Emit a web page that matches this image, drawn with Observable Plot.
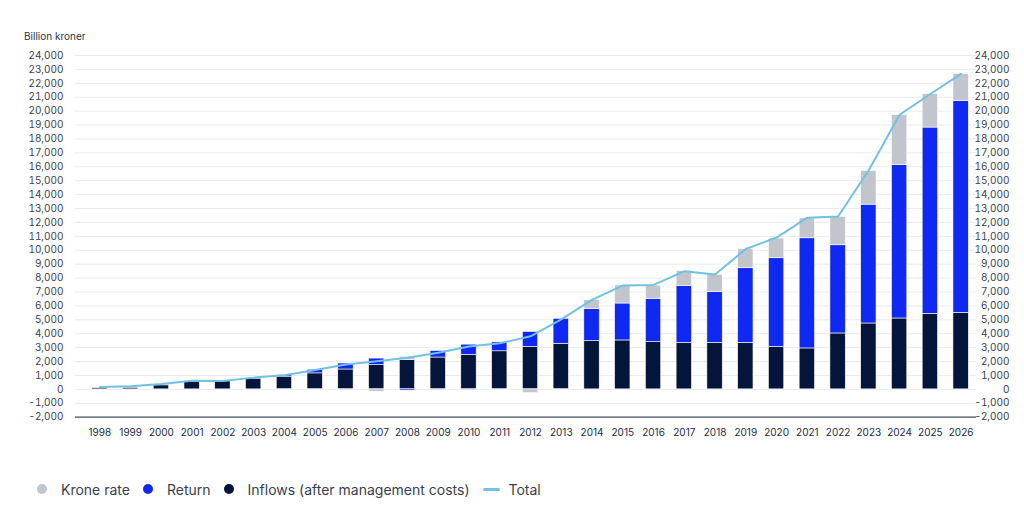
<!DOCTYPE html>
<html>
<head>
<meta charset="utf-8">
<script src="https://cdn.jsdelivr.net/npm/d3@7"></script>
<script src="https://cdn.jsdelivr.net/npm/@observablehq/plot@0.6"></script>
<style>
  html, body { margin: 0; padding: 0; background: #fff; }
  body { width: 1024px; height: 523px; position: relative; font-family: Inter, "Noto Sans", sans-serif; overflow: hidden; }
  #unit { position: absolute; left: 24px; top: 30px; font-size: 10px; color: #2b3245; }
  #chart { position: absolute; left: 0; top: 48px; }
  #legend { position: absolute; left: 37px; top: 479px; display: flex; align-items: center; font-size: 14px; color: #3a3f4c; }
  .sw { width: 10px; height: 10px; border-radius: 50%; margin-right: 14px; }
  .item { display: flex; align-items: center; margin-right: 13px; height: 20px; }
  .ln { width: 17px; height: 3px; border-radius: 2px; margin-right: 9px; }
</style>
</head>
<body>
<div id="unit">Billion kroner</div>
<div id="chart"></div>
<div id="legend"></div>
<script>
const years = [1998,1999,2000,2001,2002,2003,2004,2005,2006,2007,2008,2009,2010,2011,2012,2013,2014,2015,2016,2017,2018,2019,2020,2021,2022,2023,2024,2025,2026];
const inflows = [110,120,290,550,580,770,915,1150,1430,1740,2120,2290,2476,2738,3050,3278,3469,3517,3397,3349,3349,3349,3062,2943,4019,4737,5096,5431,5502];
const returns = [30,60,60,30,20,60,110,260,430,474,-90,470,738,643,1080,1794,2297,2655,3110,4091,3637,5359,6364,7918,6340,8541,11028,13389,15236];
const krone = [30,40,30,30,10,15,-10,-10,-76,-170,230,-80,-80,-60,-270,-30,645,1292,957,1077,1244,1364,1411,1436,2033,2416,3583,2398,1943];
const total = [172,222,386,614,609,845,1016,1399,1784,2019,2275,2640,3077,3312,3816,5038,6431,7475,7510,8488,8256,10088,10914,12340,12429,15765,19742,21230,22681];
const yTicks = [-2000,-1000,0,1000,2000,3000,4000,5000,6000,7000,8000,9000,10000,11000,12000,13000,14000,15000,16000,17000,18000,19000,20000,21000,22000,23000,24000];
const seriesNames = ["Krone rate", "Return", "Inflows (after management costs)"];
const seriesColors = ["#c3c5cc", "#0f28f2", "#03153b"];
const lineName = "Total";
const lineColor = "#72c1e3";

const rows = years.flatMap((yr, i) => [
  {year: yr, series: seriesNames[2], value: inflows[i]},
  {year: yr, series: seriesNames[1], value: returns[i]},
  {year: yr, series: seriesNames[0], value: krone[i]}
]);
const totals = years.map((yr, i) => ({year: yr, total: total[i]}));
const fmt = d => (d < 0 ? "-" : "") + d3.format(",")(Math.abs(d));

const chart = Plot.plot({
  width: 1024,
  height: 402,
  marginTop: 7,
  marginBottom: 33.3,
  marginLeft: 75,
  marginRight: 48,
  style: {fontFamily: "Inter, sans-serif", background: "transparent"},
  x: {type: "band", domain: years, paddingInner: 0.5, paddingOuter: 0.25, insetLeft: 9, round: false},
  y: {domain: [-2000, 24000]},
  color: {domain: seriesNames, range: seriesColors},
  marks: [
    Plot.ruleY(yTicks.filter(t => t > -2000), {stroke: "#ebecef", strokeWidth: 1}),
    Plot.barY(rows, {x: "year", y: "value", fill: "series", stroke: "#ffffff", strokeWidth: 0.6}),
    Plot.line(totals, {x: "year", y: "total", stroke: lineColor, strokeWidth: 2}),
    Plot.ruleY([-2000], {stroke: "#3e4862", strokeWidth: 1.3}),
    Plot.axisY({anchor: "left", ticks: yTicks, tickSize: 0, tickPadding: 12, tickFormat: fmt, fontSize: 10, fill: "#3a4056", label: null}),
    Plot.axisY({anchor: "right", ticks: yTicks, tickSize: 0, tickPadding: 33, textAnchor: "end", tickFormat: fmt, fontSize: 10, fill: "#3a4056", label: null}),
    Plot.axisX({tickSize: 0, tickPadding: 12, tickFormat: d => String(d), fontSize: 10, fill: "#222b45", label: null})
  ]
});
document.getElementById("chart").appendChild(chart);

const legend = document.getElementById("legend");
seriesNames.forEach((n, i) => {
  const it = document.createElement("div");
  it.className = "item";
  it.innerHTML = `<span class="sw" style="background:${seriesColors[i]}"></span><span>${n}</span>`;
  legend.appendChild(it);
});
const li = document.createElement("div");
li.className = "item";
li.innerHTML = `<span class="ln" style="background:${lineColor}"></span><span>${lineName}</span>`;
legend.appendChild(li);
</script>
</body>
</html>
